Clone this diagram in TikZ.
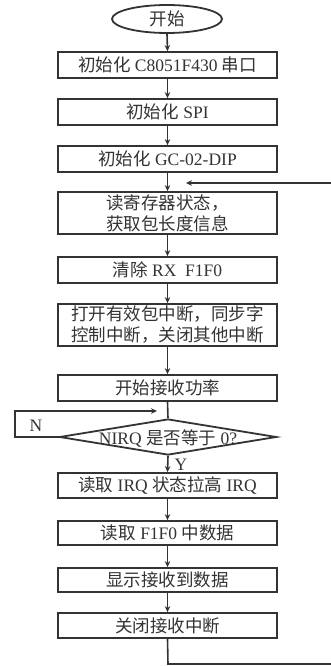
\documentclass[tikz,border=0pt]{standalone}
\usepackage{fontspec}
\setmainfont{Liberation Serif}
\newfontfamily\cjk{Noto Sans CJK SC}
\newcommand\zhs[1]{{\cjk #1}}
\usetikzlibrary{shapes.geometric,arrows.meta}
\definecolor{ink}{HTML}{333333}
\begin{document}
\begin{tikzpicture}[x=1pt,y=-1pt,
  every node/.style={text=ink},
  tf/.style={font=\fontsize{17.5}{21}\selectfont},
  box/.style={draw=ink, line width=1.8pt, minimum width=219pt, inner sep=0pt,
    tf, align=center},
  arr/.style={draw=ink, line width=1.6pt, -{Stealth[length=6pt,width=5.5pt]}},
  ln/.style={draw=ink, line width=1.6pt}]
\useasboundingbox (0,0) rectangle (331,666);
\fill[white] (0,0) rectangle (331,666);

\node[draw=ink, line width=1.8pt, ellipse, minimum width=110pt, minimum height=28pt, inner sep=0pt,
  tf] (s) at (167,19) {\zhs{开始}};
\node[box, minimum height=26pt] (b1) at (167.5,65) {\zhs{初始化} C8051F430 \zhs{串口}};
\node[box, minimum height=26pt] (b2) at (167.5,112) {\zhs{初始化} SPI};
\node[box, minimum height=26pt] (b3) at (167.5,159) {\zhs{初始化} GC-02-DIP};
\node[box, minimum height=42pt] (b4) at (167.5,213) {\zhs{读寄存器状态，}\\\zhs{获取包长度信息}};
\node[box, minimum height=26pt] (b5) at (167.5,270) {\zhs{清除} RX\ \ F1F0};
\node[box, minimum height=42pt] (b6) at (167.5,325) {\zhs{打开有效包中断，同步字}\\\zhs{控制中断，关闭其他中断}};
\node[box, minimum height=26pt] (b7) at (167.5,388) {\zhs{开始接收功率}};
\node[draw=ink, line width=1.8pt, diamond, aspect=6, minimum width=217pt, minimum height=36pt, inner sep=0pt] (d) at (168,437) {};
\node[tf] (dt) at (168,439) {NIRQ \zhs{是否等于} 0?};
\node[box, minimum height=25pt] (b8) at (167.5,485.5) {\zhs{读取} IRQ \zhs{状态拉高} IRQ};
\node[box, minimum height=24pt] (b9) at (167.5,533) {\zhs{读取} F1F0 \zhs{中数据}};
\node[box, minimum height=24pt] (b10) at (167.5,580) {\zhs{显示接收到数据}};
\node[box, minimum height=25pt] (b11) at (167.5,625.5) {\zhs{关闭接收中断}};

\node[tf] (nl) at (36,426) {N};
\node[tf] (yl) at (181,465) {Y};

\draw[arr] (s.south) -- (b1.north);
\draw[arr] (b1.south) -- (b2.north);
\draw[arr] (b2.south) -- (b3.north);
\draw[arr] (b3.south) -- (b4.north);
\draw[arr] (b4.south) -- (b5.north);
\draw[arr] (b5.south) -- (b6.north);
\draw[arr] (b6.south) -- (b7.north);
\draw[ln] (b7.south) -- (d.north);
\draw[arr] (d.south) -- (b8.north);
\draw[arr] (b8.south) -- (b9.north);
\draw[arr] (b9.south) -- (b10.north);
\draw[arr] (b10.south) -- (b11.north);

\coordinate (n1) at (15,437);
\coordinate (n2) at (15,411);
\coordinate (n3) at (157,411);
\draw[arr] (d.west) -- (n1) -- (n2) -- (n3);

\coordinate (f1) at (168,664);
\coordinate (f2) at (331,664);
\draw[ln] (b11.south) -- (f1) -- (f2);
\coordinate (g1) at (331,183);
\coordinate (g2) at (186,183);
\draw[arr] (g1) -- (g2);
\end{tikzpicture}
\end{document}
